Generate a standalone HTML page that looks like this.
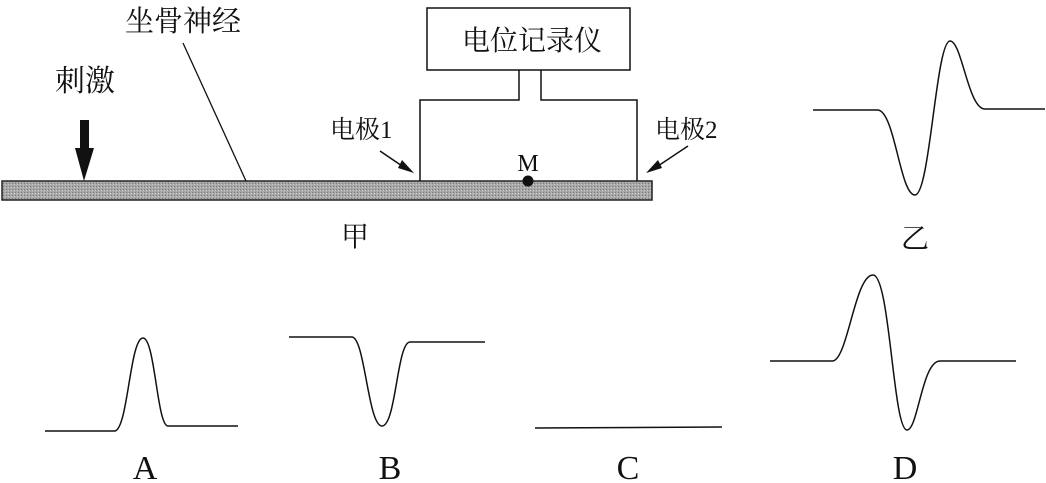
<!DOCTYPE html>
<html><head><meta charset="utf-8"><style>
html,body{margin:0;padding:0;background:#fff;}
svg{display:block;}
text{font-family:"Liberation Serif","Noto Serif CJK SC",serif;fill:#111;}
</style></head><body>
<svg width="1046" height="483" viewBox="0 0 1046 483" xmlns="http://www.w3.org/2000/svg">
<defs>
<pattern id="g" width="3" height="3" patternUnits="userSpaceOnUse"><rect width="3" height="3" fill="#a8a8a8"/><rect width="1" height="1" fill="#777"/><rect x="2" y="1" width="1" height="1" fill="#ccc"/></pattern>
</defs>
<g stroke="#111" fill="none" stroke-width="1.5">
<rect x="2" y="181" width="650" height="19" fill="url(#g)" stroke="#222" stroke-width="1.5"/>
<rect x="427" y="8" width="203" height="62" fill="#fff"/>
<polyline points="519,70 519,100 420,100 420,181"/>
<polyline points="541,70 541,100 637,100 637,181"/>
<line x1="183" y1="43" x2="246" y2="181" stroke-width="1.3"/>
<line x1="380" y1="151" x2="408" y2="170"/>
<line x1="688" y1="146" x2="652" y2="170"/>
<path d="M813,110 L878,110 C895,112 900,195 915,195 C930,195 936,41 950,41 C962,41 968,109 985,109 L1045,109"/>
<path d="M770,361 L833,361 C848,358 855,275 873,275 C890,275 893,430 907,430 C918,430 922,361 940,361 L1016,361"/>
<path d="M45,431 L115,431 C128,428 130,338 143,338 C155,338 157,426 168,426 L238,426"/>
<path d="M289,337 L352,337 C365,338 368,426 382,426 C396,426 397,342 410,342 L485,342"/>
<path d="M535,428 L722,427"/>
</g>
<polygon points="402,160 414,173 398,168" fill="#111"/>
<polygon points="658,160 646,173 662,168" fill="#111"/>
<rect x="80" y="120" width="9" height="30" fill="#111"/>
<polygon points="75,148 94,148 84,181" fill="#111"/>
<circle cx="528" cy="181" r="5.5" fill="#111"/>
<text x="532" y="50" font-size="28" text-anchor="middle">电位记录仪</text>
<text x="125" y="31" font-size="29">坐骨神经</text>
<text x="55" y="91" font-size="30">刺激</text>
<text x="330" y="138" font-size="25">电极1</text>
<text x="655" y="138" font-size="25">电极2</text>
<text x="528" y="171" font-size="24" text-anchor="middle">M</text>
<text x="355" y="246" font-size="28" text-anchor="middle">甲</text>
<text x="915" y="248" font-size="28" text-anchor="middle">乙</text>
<text x="145" y="479" font-size="34" text-anchor="middle">A</text>
<text x="390" y="479" font-size="34" text-anchor="middle">B</text>
<text x="628" y="479" font-size="34" text-anchor="middle">C</text>
<text x="905" y="479" font-size="34" text-anchor="middle">D</text>
</svg>
</body></html>
